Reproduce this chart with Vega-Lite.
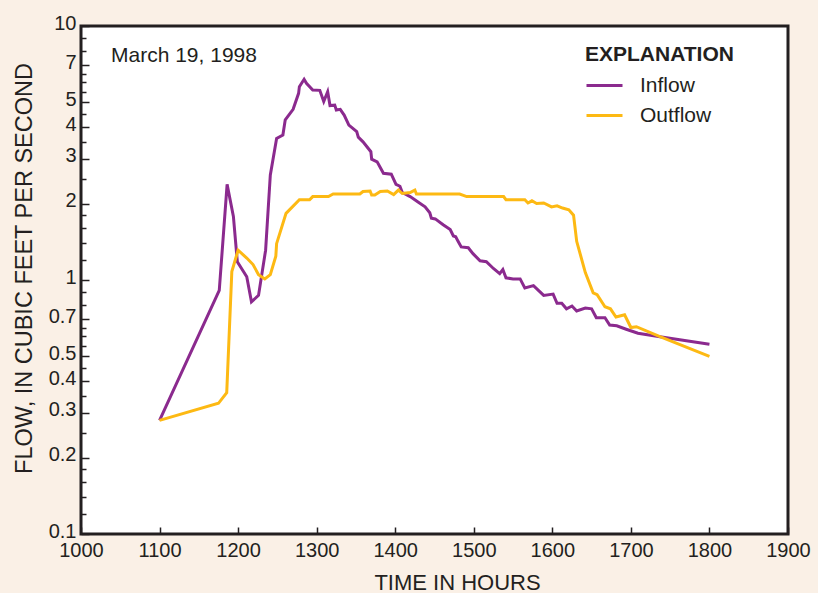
{
  "$schema": "https://vega.github.io/schema/vega-lite/v6.json",
  "width": 707,
  "height": 508,
  "autosize": {"type": "none"},
  "padding": {"left": 81, "top": 26, "right": 30, "bottom": 59},
  "background": "#FAF0E6",
  "title": {"text": "March 19, 1998", "anchor": "start", "frame": "group", "orient": "top", "offset": -33, "dx": 30, "dy": 37, "baseline": "alphabetic", "fontSize": 21, "fontWeight": "normal", "font": "Liberation Sans", "color": "#231F20"},
  "config": {
    "view": {"stroke": "#231F20", "strokeWidth": 3, "fill": "white"},
    "font": "Liberation Sans",
    "axis": {"domain": false, "grid": false, "labelColor": "#231F20", "titleColor": "#231F20", "labelFontSize": 20, "titleFontSize": 22, "titleFontWeight": "normal", "labelFont": "Liberation Sans", "titleFont": "Liberation Sans"}
  },
  "data": {"values": [
    {"series": "Inflow", "time": 1100, "flow": 0.28},
    {"series": "Inflow", "time": 1176, "flow": 0.91},
    {"series": "Inflow", "time": 1186, "flow": 2.38},
    {"series": "Inflow", "time": 1194, "flow": 1.78},
    {"series": "Inflow", "time": 1199, "flow": 1.18},
    {"series": "Inflow", "time": 1211, "flow": 1.03},
    {"series": "Inflow", "time": 1217, "flow": 0.82},
    {"series": "Inflow", "time": 1226, "flow": 0.87},
    {"series": "Inflow", "time": 1235, "flow": 1.31},
    {"series": "Inflow", "time": 1241, "flow": 2.59},
    {"series": "Inflow", "time": 1249, "flow": 3.61},
    {"series": "Inflow", "time": 1257, "flow": 3.72},
    {"series": "Inflow", "time": 1260, "flow": 4.27},
    {"series": "Inflow", "time": 1270, "flow": 4.7},
    {"series": "Inflow", "time": 1277, "flow": 5.43},
    {"series": "Inflow", "time": 1278, "flow": 5.77},
    {"series": "Inflow", "time": 1284, "flow": 6.17},
    {"series": "Inflow", "time": 1287, "flow": 5.95},
    {"series": "Inflow", "time": 1295, "flow": 5.6},
    {"series": "Inflow", "time": 1304, "flow": 5.58},
    {"series": "Inflow", "time": 1309, "flow": 5.04},
    {"series": "Inflow", "time": 1314, "flow": 5.51},
    {"series": "Inflow", "time": 1317, "flow": 4.86},
    {"series": "Inflow", "time": 1323, "flow": 4.88},
    {"series": "Inflow", "time": 1325, "flow": 4.67},
    {"series": "Inflow", "time": 1330, "flow": 4.7},
    {"series": "Inflow", "time": 1335, "flow": 4.46},
    {"series": "Inflow", "time": 1341, "flow": 4.07},
    {"series": "Inflow", "time": 1351, "flow": 3.84},
    {"series": "Inflow", "time": 1353, "flow": 3.65},
    {"series": "Inflow", "time": 1359, "flow": 3.5},
    {"series": "Inflow", "time": 1369, "flow": 3.2},
    {"series": "Inflow", "time": 1370, "flow": 2.99},
    {"series": "Inflow", "time": 1377, "flow": 2.92},
    {"series": "Inflow", "time": 1385, "flow": 2.63},
    {"series": "Inflow", "time": 1395, "flow": 2.61},
    {"series": "Inflow", "time": 1401, "flow": 2.38},
    {"series": "Inflow", "time": 1406, "flow": 2.34},
    {"series": "Inflow", "time": 1409, "flow": 2.21},
    {"series": "Inflow", "time": 1419, "flow": 2.13},
    {"series": "Inflow", "time": 1429, "flow": 2.03},
    {"series": "Inflow", "time": 1438, "flow": 1.94},
    {"series": "Inflow", "time": 1444, "flow": 1.84},
    {"series": "Inflow", "time": 1446, "flow": 1.75},
    {"series": "Inflow", "time": 1451, "flow": 1.74},
    {"series": "Inflow", "time": 1461, "flow": 1.65},
    {"series": "Inflow", "time": 1470, "flow": 1.58},
    {"series": "Inflow", "time": 1474, "flow": 1.49},
    {"series": "Inflow", "time": 1477, "flow": 1.48},
    {"series": "Inflow", "time": 1480, "flow": 1.42},
    {"series": "Inflow", "time": 1484, "flow": 1.35},
    {"series": "Inflow", "time": 1493, "flow": 1.34},
    {"series": "Inflow", "time": 1499, "flow": 1.27},
    {"series": "Inflow", "time": 1508, "flow": 1.19},
    {"series": "Inflow", "time": 1516, "flow": 1.18},
    {"series": "Inflow", "time": 1525, "flow": 1.11},
    {"series": "Inflow", "time": 1533, "flow": 1.06},
    {"series": "Inflow", "time": 1537, "flow": 1.1},
    {"series": "Inflow", "time": 1541, "flow": 1.02},
    {"series": "Inflow", "time": 1550, "flow": 1.01},
    {"series": "Inflow", "time": 1559, "flow": 1.01},
    {"series": "Inflow", "time": 1565, "flow": 0.93},
    {"series": "Inflow", "time": 1576, "flow": 0.95},
    {"series": "Inflow", "time": 1589, "flow": 0.87},
    {"series": "Inflow", "time": 1601, "flow": 0.88},
    {"series": "Inflow", "time": 1606, "flow": 0.81},
    {"series": "Inflow", "time": 1612, "flow": 0.81},
    {"series": "Inflow", "time": 1618, "flow": 0.77},
    {"series": "Inflow", "time": 1625, "flow": 0.79},
    {"series": "Inflow", "time": 1631, "flow": 0.755},
    {"series": "Inflow", "time": 1642, "flow": 0.775},
    {"series": "Inflow", "time": 1650, "flow": 0.77},
    {"series": "Inflow", "time": 1656, "flow": 0.71},
    {"series": "Inflow", "time": 1667, "flow": 0.71},
    {"series": "Inflow", "time": 1673, "flow": 0.665},
    {"series": "Inflow", "time": 1682, "flow": 0.66},
    {"series": "Inflow", "time": 1694, "flow": 0.64},
    {"series": "Inflow", "time": 1709, "flow": 0.617},
    {"series": "Inflow", "time": 1737, "flow": 0.598},
    {"series": "Inflow", "time": 1800, "flow": 0.558},
    {"series": "Outflow", "time": 1100, "flow": 0.28},
    {"series": "Outflow", "time": 1175, "flow": 0.327},
    {"series": "Outflow", "time": 1185.5, "flow": 0.36},
    {"series": "Outflow", "time": 1192, "flow": 1.08},
    {"series": "Outflow", "time": 1200, "flow": 1.31},
    {"series": "Outflow", "time": 1211, "flow": 1.22},
    {"series": "Outflow", "time": 1219, "flow": 1.15},
    {"series": "Outflow", "time": 1226, "flow": 1.05},
    {"series": "Outflow", "time": 1234, "flow": 1.01},
    {"series": "Outflow", "time": 1241, "flow": 1.05},
    {"series": "Outflow", "time": 1248, "flow": 1.24},
    {"series": "Outflow", "time": 1249, "flow": 1.39},
    {"series": "Outflow", "time": 1261, "flow": 1.83},
    {"series": "Outflow", "time": 1278, "flow": 2.07},
    {"series": "Outflow", "time": 1291, "flow": 2.07},
    {"series": "Outflow", "time": 1295, "flow": 2.13},
    {"series": "Outflow", "time": 1315, "flow": 2.13},
    {"series": "Outflow", "time": 1321, "flow": 2.18},
    {"series": "Outflow", "time": 1355, "flow": 2.18},
    {"series": "Outflow", "time": 1359, "flow": 2.23},
    {"series": "Outflow", "time": 1368, "flow": 2.24},
    {"series": "Outflow", "time": 1370, "flow": 2.16},
    {"series": "Outflow", "time": 1374, "flow": 2.16},
    {"series": "Outflow", "time": 1381, "flow": 2.23},
    {"series": "Outflow", "time": 1390, "flow": 2.24},
    {"series": "Outflow", "time": 1398, "flow": 2.17},
    {"series": "Outflow", "time": 1404, "flow": 2.26},
    {"series": "Outflow", "time": 1409, "flow": 2.19},
    {"series": "Outflow", "time": 1419, "flow": 2.21},
    {"series": "Outflow", "time": 1425, "flow": 2.26},
    {"series": "Outflow", "time": 1427, "flow": 2.18},
    {"series": "Outflow", "time": 1482, "flow": 2.18},
    {"series": "Outflow", "time": 1491, "flow": 2.13},
    {"series": "Outflow", "time": 1538, "flow": 2.13},
    {"series": "Outflow", "time": 1541, "flow": 2.07},
    {"series": "Outflow", "time": 1565, "flow": 2.07},
    {"series": "Outflow", "time": 1569, "flow": 2.01},
    {"series": "Outflow", "time": 1574, "flow": 2.05},
    {"series": "Outflow", "time": 1580, "flow": 2.0},
    {"series": "Outflow", "time": 1589, "flow": 2.01},
    {"series": "Outflow", "time": 1599, "flow": 1.94},
    {"series": "Outflow", "time": 1606, "flow": 1.96},
    {"series": "Outflow", "time": 1613, "flow": 1.92},
    {"series": "Outflow", "time": 1621, "flow": 1.89},
    {"series": "Outflow", "time": 1627, "flow": 1.8},
    {"series": "Outflow", "time": 1631, "flow": 1.42},
    {"series": "Outflow", "time": 1642, "flow": 1.07},
    {"series": "Outflow", "time": 1652, "flow": 0.89},
    {"series": "Outflow", "time": 1657, "flow": 0.875},
    {"series": "Outflow", "time": 1667, "flow": 0.785},
    {"series": "Outflow", "time": 1674, "flow": 0.77},
    {"series": "Outflow", "time": 1681, "flow": 0.715},
    {"series": "Outflow", "time": 1692, "flow": 0.73},
    {"series": "Outflow", "time": 1700, "flow": 0.65},
    {"series": "Outflow", "time": 1707, "flow": 0.655},
    {"series": "Outflow", "time": 1737, "flow": 0.598},
    {"series": "Outflow", "time": 1800, "flow": 0.5}
  ]},
  "mark": {"type": "line", "strokeWidth": 3},
  "encoding": {
    "x": {"field": "time", "type": "quantitative", "scale": {"domain": [1000, 1900], "nice": false, "zero": false},
      "axis": {"orient": "bottom", "values": [1000, 1100, 1200, 1300, 1400, 1500, 1600, 1700, 1800, 1900], "format": "d", "ticks": true, "tickColor": "#231F20", "tickWidth": 1.5, "tickSize": -7, "labelPadding": 13, "labelFlush": false, "labelOverlap": false, "title": "TIME IN HOURS", "titleX": 376, "titleY": 48, "titleBaseline": "middle", "titleAlign": "center"}},
    "y": {"field": "flow", "type": "quantitative", "scale": {"type": "log", "domain": [0.1, 10], "nice": false},
      "axis": {"orient": "left",
        "values": [0.1, 0.12, 0.14, 0.16, 0.18, 0.2, 0.25, 0.3, 0.35, 0.4, 0.45, 0.5, 0.55, 0.6, 0.65, 0.7, 0.8, 0.9, 1, 1.2, 1.4, 1.6, 1.8, 2, 2.5, 3, 3.5, 4, 4.5, 5, 5.5, 6, 6.5, 7, 8, 9, 10],
        "labelExpr": "indexof([0.1,0.2,0.3,0.4,0.5,0.7,1,2,3,4,5,7,10], datum.value) >= 0 ? toString(datum.value) : ''",
        "ticks": true, "tickColor": "#231F20", "tickWidth": 1.5,
        "tickSize": {"condition": {"test": "indexof([0.1,0.2,0.3,0.4,0.5,0.7,1,2,3,4,5,7,10], datum.value) >= 0", "value": -8}, "value": -5},
        "labelPadding": 13, "labelOffset": -3, "labelFlush": false, "labelOverlap": false,
        "title": "FLOW, IN CUBIC FEET PER SECOND", "titleFontSize": 23.5, "titleX": -57, "titleY": 242, "titleAngle": -90, "titleAlign": "center", "titleBaseline": "middle"}},
    "color": {"field": "series", "type": "nominal",
      "scale": {"domain": ["Inflow", "Outflow"], "range": ["#8B2A8E", "#FDB913"]},
      "legend": {"orient": "none", "legendX": 504, "legendY": 18, "title": "EXPLANATION", "titleFontSize": 21, "titleFontWeight": "bold", "titleColor": "#231F20", "titleFont": "Liberation Sans", "titlePadding": 1, "padding": 0, "labelFontSize": 21, "labelColor": "#231F20", "labelFont": "Liberation Sans", "labelOffset": 16, "symbolType": "stroke", "symbolSize": 1296, "symbolStrokeWidth": 3, "rowPadding": -2}}
  }
}
